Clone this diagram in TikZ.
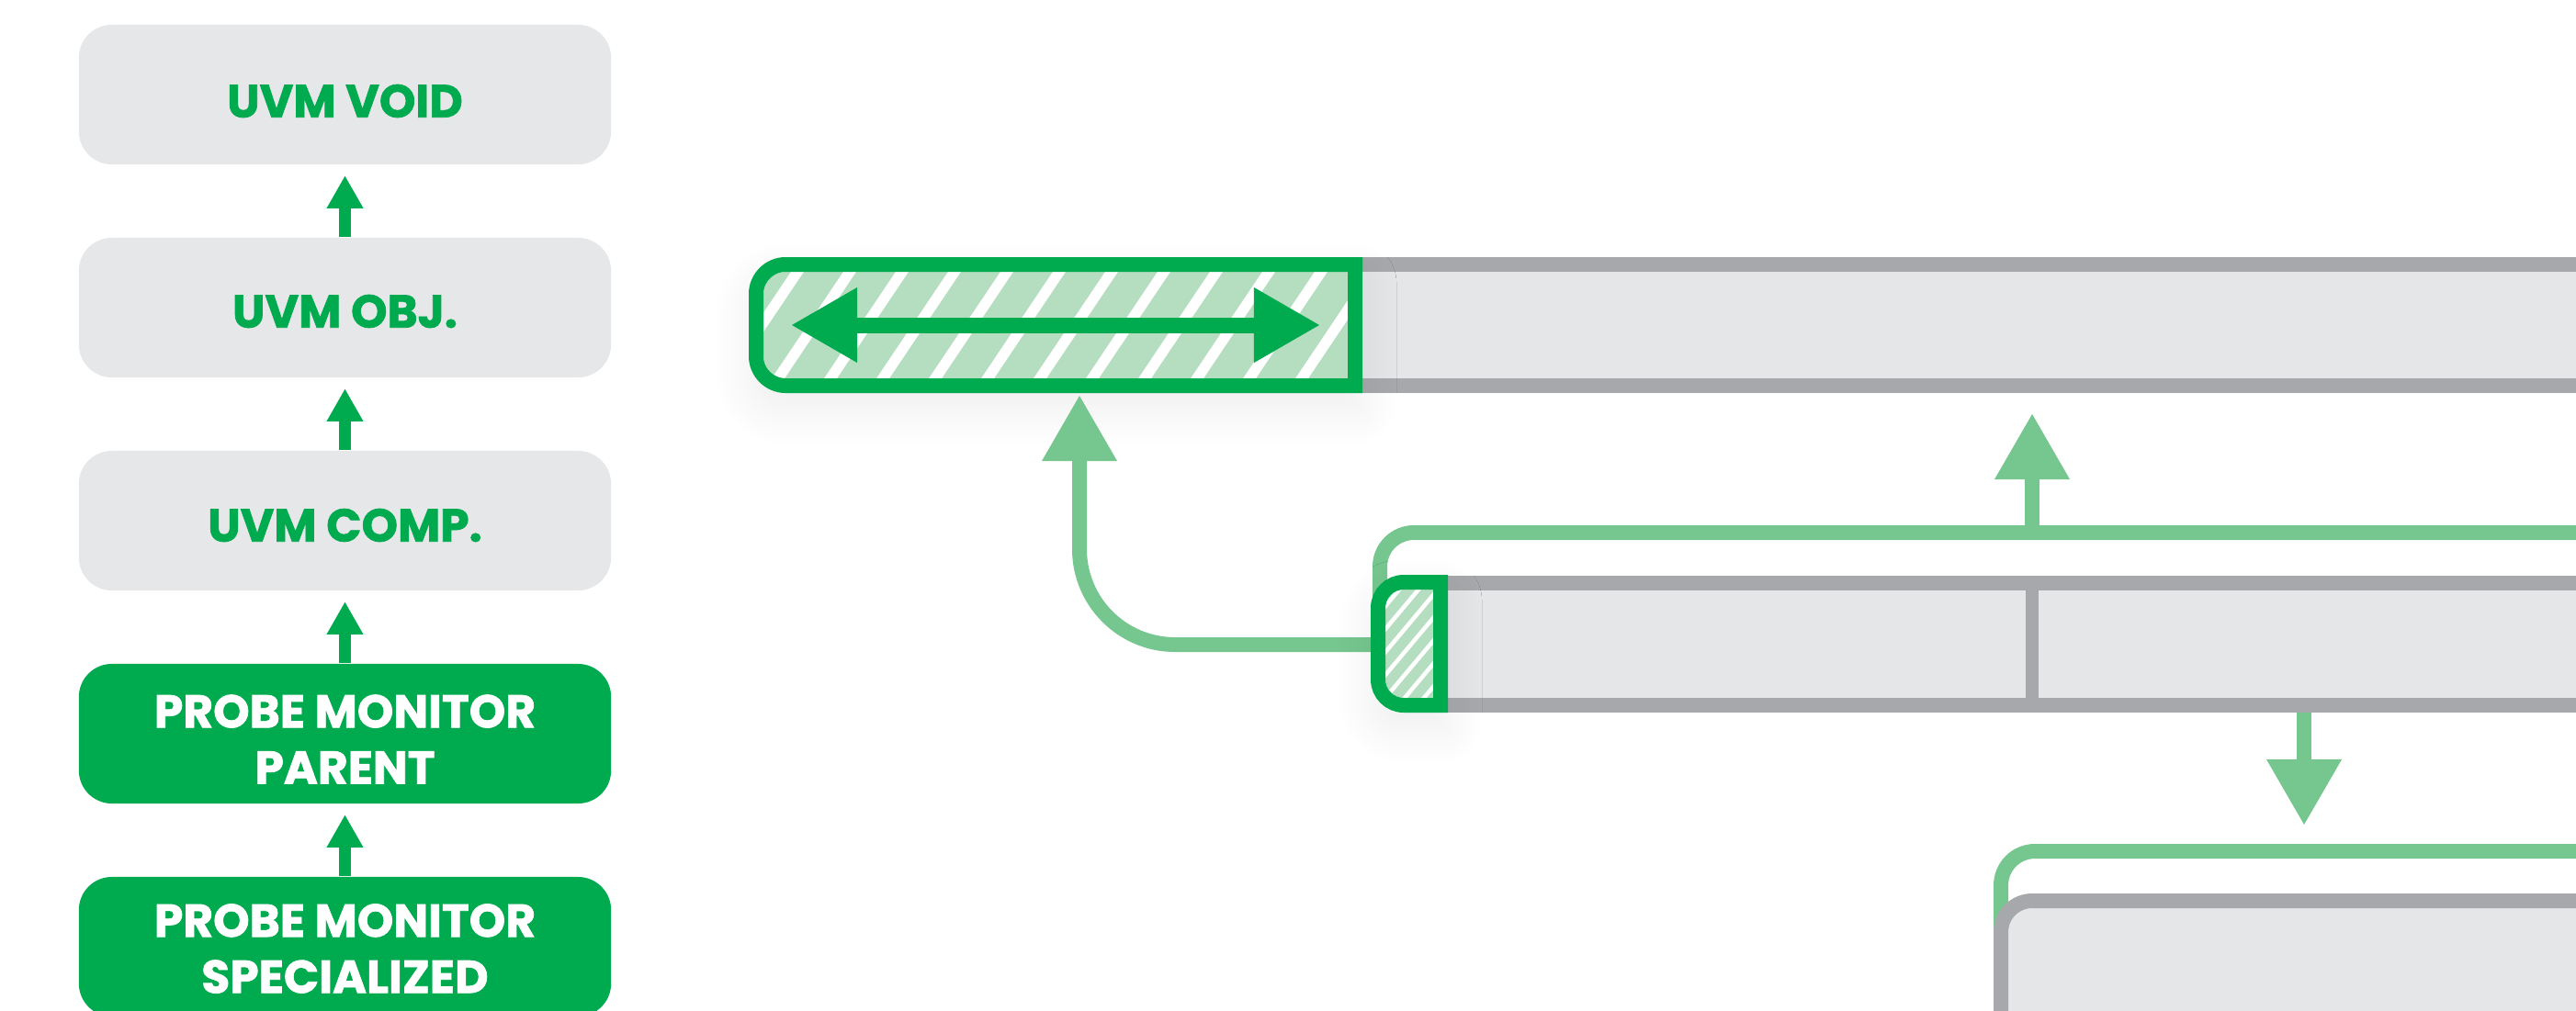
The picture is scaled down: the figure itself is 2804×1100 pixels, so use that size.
\documentclass[tikz,border=0pt]{standalone}
\usepackage{fontspec}
\setmainfont{Poppins}[BoldFeatures={FakeBold=1.4}]
\usetikzlibrary{arrows.meta,shadows.blur}
\definecolor{dgreen}{HTML}{00AA4F}
\definecolor{lgreen}{HTML}{76C68F}
\definecolor{hgreen}{HTML}{B5DDBF}
\definecolor{boxgray}{HTML}{E6E7E8}
\definecolor{bargray}{HTML}{E5E6E8}
\definecolor{stripegray}{HTML}{A7A8AB}
\begin{document}
\begin{tikzpicture}[x=0.01cm,y=-0.01cm,
  leftbox/.style={rounded corners=0.36cm, minimum width=5.79cm, minimum height=1.52cm, inner sep=0pt},
  boxtext/.style={align=center, inner sep=0pt, font=\bfseries\fontsize{14.3}{17.4}\selectfont},
  graybox/.style={leftbox, fill=boxgray},
  greenbox/.style={leftbox, fill=dgreen},
  uparrow/.style={dgreen, line width=0.125cm, -{Triangle[length=0.35cm, width=0.40cm, line width=0pt]}},
  flowarrow/.style={lgreen, line width=0.16cm, -{Triangle[length=0.71cm, width=0.82cm, line width=0pt]}},
  bracket/.style={lgreen, line width=0.16cm, rounded corners=0.37cm},
  softshadow/.style={blur shadow={shadow xshift=0cm, shadow yshift=-0.2cm, shadow blur radius=0.45cm, shadow opacity=8, shadow blur steps=30}},
  outline/.style={dgreen, line width=0.16cm}
]
\useasboundingbox (0,0) rectangle (2804,1100);
\clip (0,0) rectangle (2804,1100);

% ---------- left column ----------
\node[graybox]  (void)   at (375.5,103)  {};
\node[graybox]  (obj)    at (375.5,335)  {};
\node[graybox]  (comp)   at (375.5,567)  {};
\node[greenbox] (parent) at (375.5,799)  {};
\node[greenbox] (spec)   at (375.5,1031) {};
\node[boxtext, text=dgreen] (voidt)   at ([yshift=-0.07cm]void.center)   {UVM VOID};
\node[boxtext, text=dgreen] (objt)    at ([yshift=-0.04cm]obj.center)    {UVM OBJ.};
\node[boxtext, text=dgreen] (compt)   at ([yshift=-0.05cm]comp.center)   {UVM COMP.};
\node[boxtext, text=white]  (parentt) at ([yshift=-0.06cm]parent.center) {PROBE MONITOR\\PARENT};
\node[boxtext, text=white]  (spect)   at ([yshift=-0.02cm]spec.center)   {PROBE MONITOR\\SPECIALIZED};
\draw[uparrow] (obj.north)    -- ([yshift=-0.12cm]void.south);
\draw[uparrow] (comp.north)   -- ([yshift=-0.12cm]obj.south);
\draw[uparrow] (parent.north) -- ([yshift=-0.12cm]comp.south);
\draw[uparrow] (spec.north)   -- ([yshift=-0.12cm]parent.south);

% ---------- top bar ----------
\fill[stripegray] (1475,280) rectangle (2850,428);
\fill[bargray] (1475,296) rectangle (2850,412);
\path[softshadow] (1475,288) -- (855,288) .. controls (837.7,288) and (823,302.3) .. (823,320) -- (823,388) .. controls (823,405.7) and (837.7,420) .. (855,420) -- (1475,420) -- cycle;
\begin{scope}
  \clip (1467,296) -- (855,296) .. controls (841.75,296) and (831,306.75) .. (831,320) -- (831,388) .. controls (831,401.25) and (841.75,412) .. (855,412) -- (1467,412) -- cycle;
  \fill[hgreen] (820,290) rectangle (1480,420);
  \foreach \k in {-2,...,12} {
    \draw[white, line width=0.116cm] ({837+57*\k},427) -- ({935+57*\k},281);
  }
\end{scope}
\draw[outline] (1475,288) -- (855,288) .. controls (837.7,288) and (823,302.3) .. (823,320) -- (823,388) .. controls (823,405.7) and (837.7,420) .. (855,420) -- (1475,420) -- cycle;
\coordinate (dl) at (862,354);
\coordinate (dr) at (1436,354);
\draw[dgreen, line width=0.17cm, {Triangle[length=0.71cm,width=0.82cm,line width=0pt]}-{Triangle[length=0.71cm,width=0.82cm,line width=0pt]}] (dl) -- (dr);

% ---------- connector from middle box to top box ----------
\coordinate (topB) at (1175,431);
\coordinate (midL) at (1505,702);
\coordinate (bend) at (1175,702);
\draw[flowarrow, rounded corners=1.04cm] (midL) -- (bend) -- (topB);

% ---------- middle bar ----------
\coordinate (brM) at (1502,580);
\draw[bracket] (1502,700) -- (brM) -- (2850,580);
\coordinate (upS) at (2212,580);
\coordinate (upT) at (2212,451);
\draw[flowarrow] (upS) -- (upT);
\fill[stripegray] (1560,627) rectangle (2850,776);
\fill[bargray] (1560,643) rectangle (2850,760);
\fill[stripegray] (2205,627) rectangle (2219,776);
\path[softshadow] (1568,634) -- (1528,634) .. controls (1512.5,634) and (1500,646.5) .. (1500,662) -- (1500,740) .. controls (1500,755.5) and (1512.5,768) .. (1528,768) -- (1568,768) -- cycle;
\begin{scope}
  \clip (1560,642) -- (1528,642) .. controls (1516.96,642) and (1508,650.96) .. (1508,662) -- (1508,740) .. controls (1508,751.04) and (1516.96,760) .. (1528,760) -- (1560,760) -- cycle;
  \fill[hgreen] (1500,635) rectangle (1565,765);
  \foreach \k in {-4,...,5} {
    \draw[white, line width=0.045cm] (1565,{642+25*\k}) -- (1503,{716+25*\k});
  }
\end{scope}
\draw[outline] (1568,634) -- (1528,634) .. controls (1512.5,634) and (1500,646.5) .. (1500,662) -- (1500,740) .. controls (1500,755.5) and (1512.5,768) .. (1528,768) -- (1568,768) -- cycle;

% ---------- down arrow and bottom bar ----------
\coordinate (dnS) at (2508,776);
\coordinate (dnT) at (2508,898);
\draw[flowarrow] (dnS) -- (dnT);
\draw[bracket] (2178,1020) -- (2178,927) -- (2850,927);
\draw[stripegray, fill=bargray, line width=0.16cm, rounded corners=0.34cm] (2178,981) rectangle (2900,1250);
\end{tikzpicture}
\end{document}
